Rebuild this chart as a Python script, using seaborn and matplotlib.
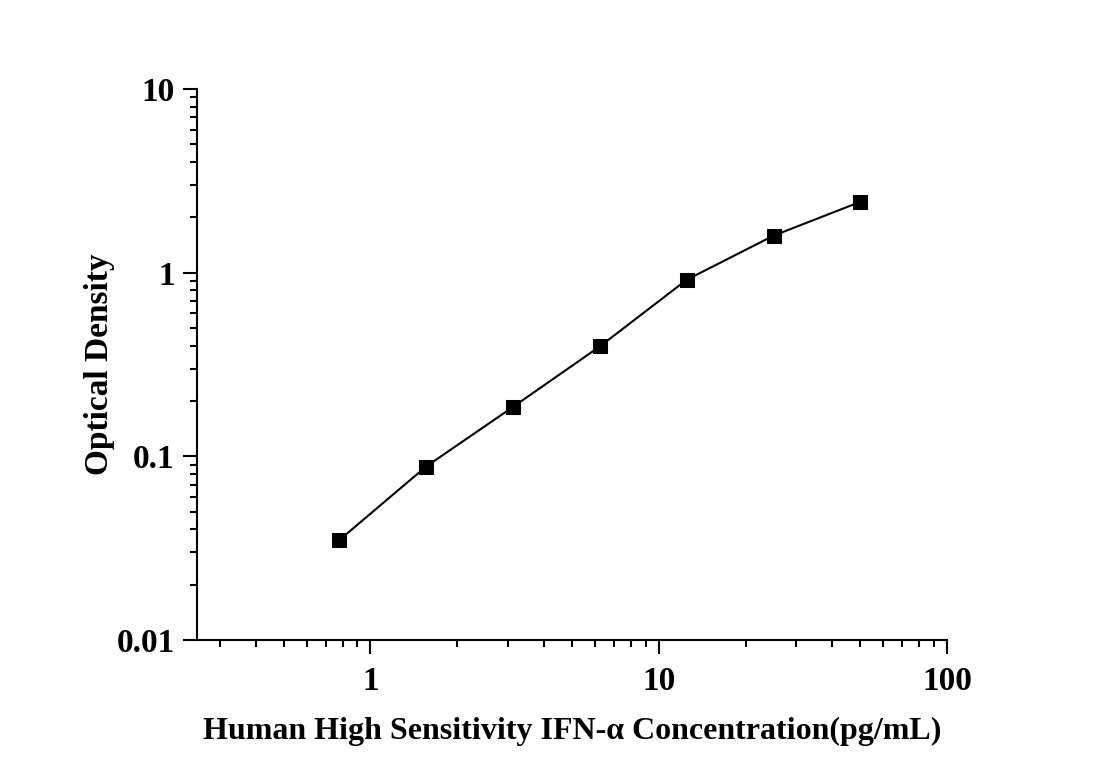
import matplotlib
matplotlib.use("Agg")
import matplotlib.pyplot as plt
import seaborn as sns
import pandas as pd
import numpy as np
from matplotlib.ticker import LogLocator, FixedLocator, FixedFormatter, NullFormatter

concentration = [0.78, 1.56, 3.125, 6.25, 12.5, 25, 50]
optical_density = [0.035, 0.088, 0.186, 0.397, 0.915, 1.59, 2.43]
x_ticks = [1, 10, 100]
x_tick_labels = ["1", "10", "100"]
y_ticks = [0.01, 0.1, 1, 10]
y_tick_labels = ["0.01", "0.1", "1", "10"]

df = pd.DataFrame({"conc": concentration, "od": optical_density})

sns.set_style("ticks")
plt.rcParams["font.family"] = ["Liberation Serif", "DejaVu Serif"]
plt.rcParams["font.weight"] = "bold"
plt.rcParams["text.color"] = "black"
plt.rcParams["axes.labelcolor"] = "black"
plt.rcParams["xtick.color"] = "black"
plt.rcParams["ytick.color"] = "black"

fig = plt.figure(figsize=(11, 7.68), dpi=100)
ax = fig.add_axes([0.179, 0.1667, 0.682, 0.7174])

sns.lineplot(data=df, x="conc", y="od", ax=ax, color="black", linewidth=1.5)
sns.scatterplot(data=df, x="conc", y="od", ax=ax, color="black", marker="s", s=90,
                edgecolor="black", zorder=5)

ax.set_xscale("log")
ax.set_yscale("log")
ax.set_xlim(0.25, 100)
ax.set_ylim(0.01, 10)

ax.xaxis.set_major_locator(FixedLocator(x_ticks))
ax.xaxis.set_major_formatter(FixedFormatter(x_tick_labels))
ax.yaxis.set_major_locator(FixedLocator(y_ticks))
ax.yaxis.set_major_formatter(FixedFormatter(y_tick_labels))
ax.xaxis.set_minor_locator(LogLocator(base=10, subs=np.arange(2, 10)))
ax.yaxis.set_minor_locator(LogLocator(base=10, subs=np.arange(2, 10)))
ax.xaxis.set_minor_formatter(NullFormatter())
ax.yaxis.set_minor_formatter(NullFormatter())

for s in ["top", "right"]:
    ax.spines[s].set_visible(False)
for s in ["left", "bottom"]:
    ax.spines[s].set_linewidth(1.5)
    ax.spines[s].set_color("black")

ax.tick_params(axis="both", which="major", direction="out", length=10, width=1.5,
               labelsize=24, colors="black")
ax.tick_params(axis="x", which="major", pad=9)
ax.tick_params(axis="y", which="major", pad=6)
ax.tick_params(axis="both", which="minor", direction="out", length=5, width=1.5,
               colors="black")
for lab in ax.get_xticklabels() + ax.get_yticklabels():
    lab.set_fontweight("bold")

ax.set_xlabel("Human High Sensitivity IFN-α Concentration(pg/mL)", fontsize=23,
              fontweight="bold", labelpad=14)
ax.set_ylabel("Optical Density", fontsize=24, fontweight="bold", labelpad=1)

fig.savefig("out.png", dpi=100, facecolor="white")
